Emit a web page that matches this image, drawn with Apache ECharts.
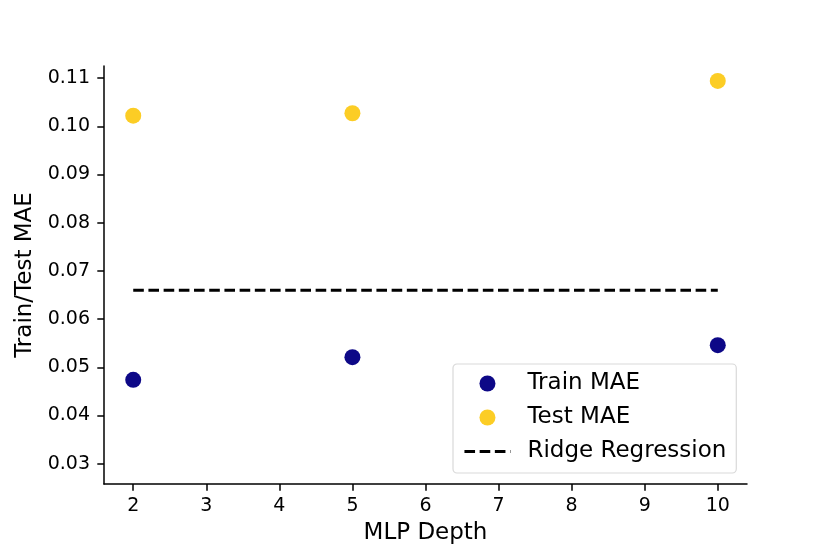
<!DOCTYPE html>
<html>
<head>
<meta charset="utf-8">
<script src="https://cdn.jsdelivr.net/npm/echarts@6/dist/echarts.min.js"></script>
<style>
html,body{margin:0;padding:0;background:#fff;}
#chart{width:830px;height:554px;}
</style>
</head>
<body>
<div id="chart"></div>
<script>
const depths = [2, 5, 10];
const trainMAE = [0.0474, 0.0521, 0.0546];
const testMAE = [0.1022, 0.1027, 0.1094];
const ridgeMAE = 0.0660;
const ridgeRange = [2, 10];
const xTicks = [2, 3, 4, 5, 6, 7, 8, 9, 10];
const yTicks = [0.03, 0.04, 0.05, 0.06, 0.07, 0.08, 0.09, 0.10, 0.11];

const FONT = 'DejaVu Sans';
const chart = echarts.init(document.getElementById('chart'), null, {renderer: 'canvas'});

const axisCommon = {
  axisLine: {show: true, onZero: false, lineStyle: {color: '#000', width: 1.5}},
  axisTick: {show: true, inside: false, length: 6.7, lineStyle: {color: '#000', width: 1.5}},
  splitLine: {show: false},
  nameMoveOverlap: false,
  nameTextStyle: {fontFamily: FONT, fontSize: 23, color: '#000'}
};

chart.setOption({
  animation: false,
  backgroundColor: '#fff',
  grid: {left: 104, right: 83, top: 66, bottom: 70, containLabel: false},
  xAxis: Object.assign({}, axisCommon, {
    type: 'value',
    min: 1.6, max: 10.4,
    name: 'MLP Depth',
    nameLocation: 'middle',
    nameGap: 38,
    axisTick: Object.assign({}, axisCommon.axisTick, {customValues: xTicks}),
    axisLabel: {customValues: xTicks, margin: 13, fontFamily: FONT, fontSize: 19, color: '#000',
      formatter: v => String(v)}
  }),
  yAxis: Object.assign({}, axisCommon, {
    type: 'value',
    min: 0.0258, max: 0.1125,
    name: 'Train/Test MAE',
    nameLocation: 'middle',
    nameRotate: 90,
    nameGap: 67,
    axisTick: Object.assign({}, axisCommon.axisTick, {customValues: yTicks}),
    axisLabel: {customValues: yTicks, margin: 14, fontFamily: FONT, fontSize: 19, color: '#000',
      formatter: v => v.toFixed(2)}
  }),
  legend: {
    orient: 'vertical',
    left: 453, top: 364,
    padding: [8, 10, 10, 10],
    itemWidth: 46, itemHeight: 16, itemGap: 11,
    backgroundColor: 'rgba(255,255,255,0.8)',
    borderColor: '#d9d9d9', borderWidth: 1.2, borderRadius: 4,
    textStyle: {fontFamily: FONT, fontSize: 23, color: '#000', padding: [0, 0, 0, 12]},
    data: [
      'Train MAE',
      'Test MAE',
      {name: 'Ridge Regression',
       itemStyle: {color: 'rgba(0,0,0,0)', borderWidth: 0, opacity: 0},
       lineStyle: {color: '#000', width: 2.9, type: [10.6, 4.6], opacity: 1}}
    ]
  },
  series: [
    {
      name: 'Train MAE', type: 'scatter', symbol: 'circle', symbolSize: 16,
      itemStyle: {color: '#0d0887', opacity: 1},
      data: depths.map((d, i) => [d, trainMAE[i]]), z: 3
    },
    {
      name: 'Test MAE', type: 'scatter', symbol: 'circle', symbolSize: 16,
      itemStyle: {color: '#fccd25', opacity: 1},
      data: depths.map((d, i) => [d, testMAE[i]]), z: 3
    },
    {
      name: 'Ridge Regression', type: 'line', symbol: 'none', showSymbol: false,
      lineStyle: {color: '#000', width: 2.9, type: [10.6, 4.6]},
      itemStyle: {color: '#000'},
      data: ridgeRange.map(x => [x, ridgeMAE]), z: 2
    }
  ]
});
</script>
</body>
</html>
